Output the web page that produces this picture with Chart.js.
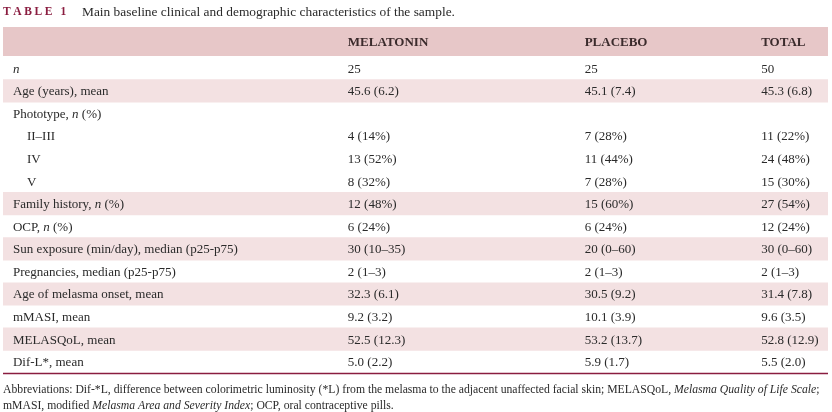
<!DOCTYPE html>
<html>
<head>
<meta charset="utf-8">
<script src="https://cdn.jsdelivr.net/npm/chart.js@4"></script>
<style>
  html, body { margin: 0; padding: 0; background: #fff; }
</style>
</head>
<body>
<canvas id="tbl" width="832" height="412"></canvas>
<script>
// table data
const rowLabels = [
  "_n_",
  "Age (years), mean",
  "Phototype, _n_ (%)",
  "II–III",
  "IV",
  "V",
  "Family history, _n_ (%)",
  "OCP, _n_ (%)",
  "Sun exposure (min/day), median (p25-p75)",
  "Pregnancies, median (p25-p75)",
  "Age of melasma onset, mean",
  "mMASI, mean",
  "MELASQoL, mean",
  "Dif-L*, mean"
];
const indented = [0, 0, 0, 1, 1, 1, 0, 0, 0, 0, 0, 0, 0, 0];
const shaded = [0, 1, 0, 0, 0, 0, 1, 0, 1, 0, 1, 0, 1, 0];

const columnHeaders = ["MELATONIN", "PLACEBO", "TOTAL"];
const melatonin = ["25", "45.6 (6.2)", "", "4 (14%)", "13 (52%)", "8 (32%)", "12 (48%)", "6 (24%)", "30 (10–35)", "2 (1–3)", "32.3 (6.1)", "9.2 (3.2)", "52.5 (12.3)", "5.0 (2.2)"];
const placebo = ["25", "45.1 (7.4)", "", "7 (28%)", "11 (44%)", "7 (28%)", "15 (60%)", "6 (24%)", "20 (0–60)", "2 (1–3)", "30.5 (9.2)", "10.1 (3.9)", "53.2 (13.7)", "5.9 (1.7)"];
const total = ["50", "45.3 (6.8)", "", "11 (22%)", "24 (48%)", "15 (30%)", "27 (54%)", "12 (24%)", "30 (0–60)", "2 (1–3)", "31.4 (7.8)", "9.6 (3.5)", "52.8 (12.9)", "5.5 (2.0)"];

// column start positions, in % of table width
const columnPos = [1.2, 41.8, 70.5, 91.9];
const indentPos = 2.9;

const titleTag = "TABLE 1";
const titleText = "Main baseline clinical and demographic characteristics of the sample.";
const footLines = [
  "Abbreviations: Dif-*L, difference between colorimetric luminosity (*L) from the melasma to the adjacent unaffected facial skin; MELASQoL, _Melasma Quality of Life Scale_;",
  "mMASI, modified _Melasma Area and Severity Index_; OCP, oral contraceptive pills."
];

const SERIF = "'Liberation Serif', 'DejaVu Serif', serif";
const TEXT = "#2a2a2a";
const MAROON = "#8a1d40";
const HEAD_BG = "#e7c7c8";
const ROW_BG = "#f3e1e2";

// draws text with _italic_ runs
function richText(ctx, str, x, y, size, weight) {
  const parts = str.split("_");
  let cx = x;
  for (let i = 0; i < parts.length; i++) {
    if (!parts[i]) continue;
    ctx.font = `${i % 2 ? "italic " : ""}${weight || ""} ${size}px ${SERIF}`;
    ctx.fillText(parts[i], cx, y);
    cx += ctx.measureText(parts[i]).width;
  }
}

const tablePlugin = {
  id: "tablePlugin",
  beforeDatasetsDraw(chart) {
    const ctx = chart.ctx;
    const xs = chart.scales.x;
    const ys = chart.scales.y;
    // header band above the first row
    ctx.save();
    ctx.fillStyle = HEAD_BG;
    ctx.fillRect(xs.getPixelForValue(0), ys.top - 30, xs.getPixelForValue(100) - xs.getPixelForValue(0), 29);
    ctx.restore();
  },
  afterDatasetsDraw(chart) {
    const ctx = chart.ctx;
    const xs = chart.scales.x;
    const ys = chart.scales.y;
    ctx.save();
    ctx.textBaseline = "middle";

    // header
    ctx.fillStyle = "#3b2b2c";
    ctx.font = `bold 13px ${SERIF}`;
    columnHeaders.forEach((h, i) => {
      ctx.fillText(h, xs.getPixelForValue(columnPos[i + 1]), ys.top - 14);
    });

    // body rows
    ctx.fillStyle = TEXT;
    const cols = [melatonin, placebo, total];
    rowLabels.forEach((lab, r) => {
      const y = ys.getPixelForValue(r) + 1;
      const lx = xs.getPixelForValue(indented[r] ? indentPos : columnPos[0]);
      richText(ctx, lab, lx, y, 13, "");
      cols.forEach((col, c) => {
        ctx.font = `13px ${SERIF}`;
        ctx.fillText(col[r], xs.getPixelForValue(columnPos[c + 1]), y);
      });
    });

    // bottom rule
    ctx.strokeStyle = MAROON;
    ctx.lineWidth = 1.5;
    ctx.beginPath();
    ctx.moveTo(xs.getPixelForValue(0), ys.bottom + 0.5);
    ctx.lineTo(xs.getPixelForValue(100), ys.bottom + 0.5);
    ctx.stroke();

    // title
    ctx.fillStyle = MAROON;
    ctx.font = `bold 11.5px ${SERIF}`;
    let tx = xs.getPixelForValue(0);
    for (const ch of titleTag) {
      ctx.fillText(ch, tx, 12);
      tx += ctx.measureText(ch).width + 2.6;
    }
    ctx.fillStyle = TEXT;
    ctx.font = `13.4px ${SERIF}`;
    ctx.fillText(titleText, xs.getPixelForValue(0) + 79, 12);

    // footnote
    footLines.forEach((line, i) => {
      richText(ctx, line, xs.getPixelForValue(0), ys.bottom + 17 + i * 16, 11.7, "");
    });
    ctx.restore();
  }
};

new Chart(document.getElementById("tbl"), {
  type: "bar",
  data: {
    labels: rowLabels,
    datasets: [{
      data: shaded.map(s => (s ? [0, 100] : null)),
      backgroundColor: ROW_BG,
      borderWidth: 0,
      barPercentage: 1,
      categoryPercentage: 1
    }]
  },
  options: {
    indexAxis: "y",
    responsive: false,
    animation: false,
    layout: { padding: { top: 57, bottom: 39, left: 3, right: 4 } },
    plugins: {
      legend: { display: false },
      tooltip: { enabled: false }
    },
    scales: {
      x: { type: "linear", min: 0, max: 100, display: false },
      y: { type: "category", display: false, offset: true }
    }
  },
  plugins: [tablePlugin]
});
</script>
</body>
</html>
